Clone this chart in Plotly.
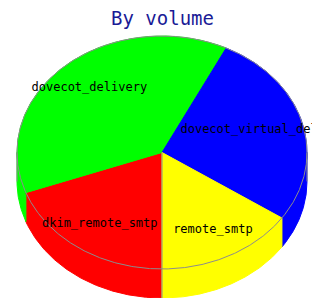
import numpy as np
import plotly.graph_objects as go

# ---- data ----
categories = ["dkim_remote_smtp", "dovecot_delivery", "dovecot_virtual_delivery", "remote_smtp"]
volumes = [19.4, 37.9, 27.2, 15.5]
colors = ["#FF0000", "#00FF00", "#0000FF", "#FFFF00"]
title_text = "By volume"

# ---- layout constants (pixel-like coordinate system) ----
W, H = 312, 298
cx, cy = 162.0, 152.5      # centre of the top ellipse
a, b = 145.0, 116.5        # ellipse radii
depth = 29.0               # 3D thickness
start_angle = 270.0        # 6 o'clock (maths degrees), slices run clockwise
outline = "#8c8c8c"


def pt(theta_deg, dy=0.0):
    t = np.radians(theta_deg)
    return cx + a * np.cos(t), cy - b * np.sin(t) + dy


fig = go.Figure()

total = float(sum(volumes))
bounds = []
ang = start_angle
for v in volumes:
    span = 360.0 * v / total
    bounds.append((ang, ang - span))
    ang -= span

# sides (front half of the cylinder)
for (t0, t1), col in zip(bounds, colors):
    hi, lo = t0, t1
    for k in (-1, 0, 1):
        s_lo, s_hi = 180.0 + 360.0 * k, 360.0 + 360.0 * k
        l, h = max(lo, s_lo), min(hi, s_hi)
        if h - l <= 1e-6:
            continue
        th = np.linspace(l, h, max(int((h - l) * 2), 2))
        xs_top, ys_top = pt(th)
        xs_bot, ys_bot = pt(th[::-1], depth)
        xs = np.concatenate([xs_top, xs_bot, xs_top[:1]])
        ys = np.concatenate([ys_top, ys_bot, ys_top[:1]])
        fig.add_trace(go.Scatter(x=xs, y=ys, mode="lines", fill="toself",
                                 fillcolor=col, line=dict(color=col, width=1),
                                 hoverinfo="skip", showlegend=False))

# top face slices
for (t0, t1), col in zip(bounds, colors):
    th = np.linspace(t0, t1, max(int(abs(t0 - t1) * 2), 2))
    ex, ey = pt(th)
    xs = np.concatenate([[cx], ex, [cx]])
    ys = np.concatenate([[cy], ey, [cy]])
    fig.add_trace(go.Scatter(x=xs, y=ys, mode="lines", fill="toself",
                             fillcolor=col, line=dict(color=col, width=1),
                             hoverinfo="skip", showlegend=False))

# outlines
th = np.linspace(0, 360, 721)
ox, oy = pt(th)
fig.add_trace(go.Scatter(x=ox, y=oy, mode="lines", line=dict(color=outline, width=1),
                         hoverinfo="skip", showlegend=False))
sx1, sy1 = pt(start_angle, depth)
for (x0, y0, x1, y1) in [(cx, cy, sx1, sy1),
                         (*pt(180.0), *pt(180.0, depth)),
                         (*pt(360.0), *pt(360.0, depth))]:
    fig.add_trace(go.Scatter(x=[x0, x1], y=[y0, y1], mode="lines",
                             line=dict(color=outline, width=1),
                             hoverinfo="skip", showlegend=False))

# labels at 3/4 of the radius along mid-angle
lx, ly = [], []
for (t0, t1) in bounds:
    mid = np.radians((t0 + t1) / 2.0)
    lx.append(cx + 0.75 * a * np.cos(mid))
    ly.append(cy - 0.75 * b * np.sin(mid))
fig.add_trace(go.Scatter(x=lx, y=ly, mode="text", text=categories,
                         textposition="middle center",
                         textfont=dict(family="DejaVu Sans Mono", size=12, color="#000000"),
                         hoverinfo="skip", showlegend=False, cliponaxis=False))

fig.add_annotation(x=cx, y=17.5, text=title_text, showarrow=False,
                   xanchor="center", yanchor="middle",
                   font=dict(family="DejaVu Sans Mono", size=19, color="#1a1a96"))

fig.update_layout(
    width=W, height=H, margin=dict(l=0, r=0, t=0, b=0),
    paper_bgcolor="white", plot_bgcolor="white",
    xaxis=dict(range=[0, W], visible=False, fixedrange=True),
    yaxis=dict(range=[H, 0], visible=False, fixedrange=True),
)

fig.write_html("out.html", config={"displayModeBar": False},
               post_script="document.body.style.margin='0';document.body.style.overflow='hidden';")
